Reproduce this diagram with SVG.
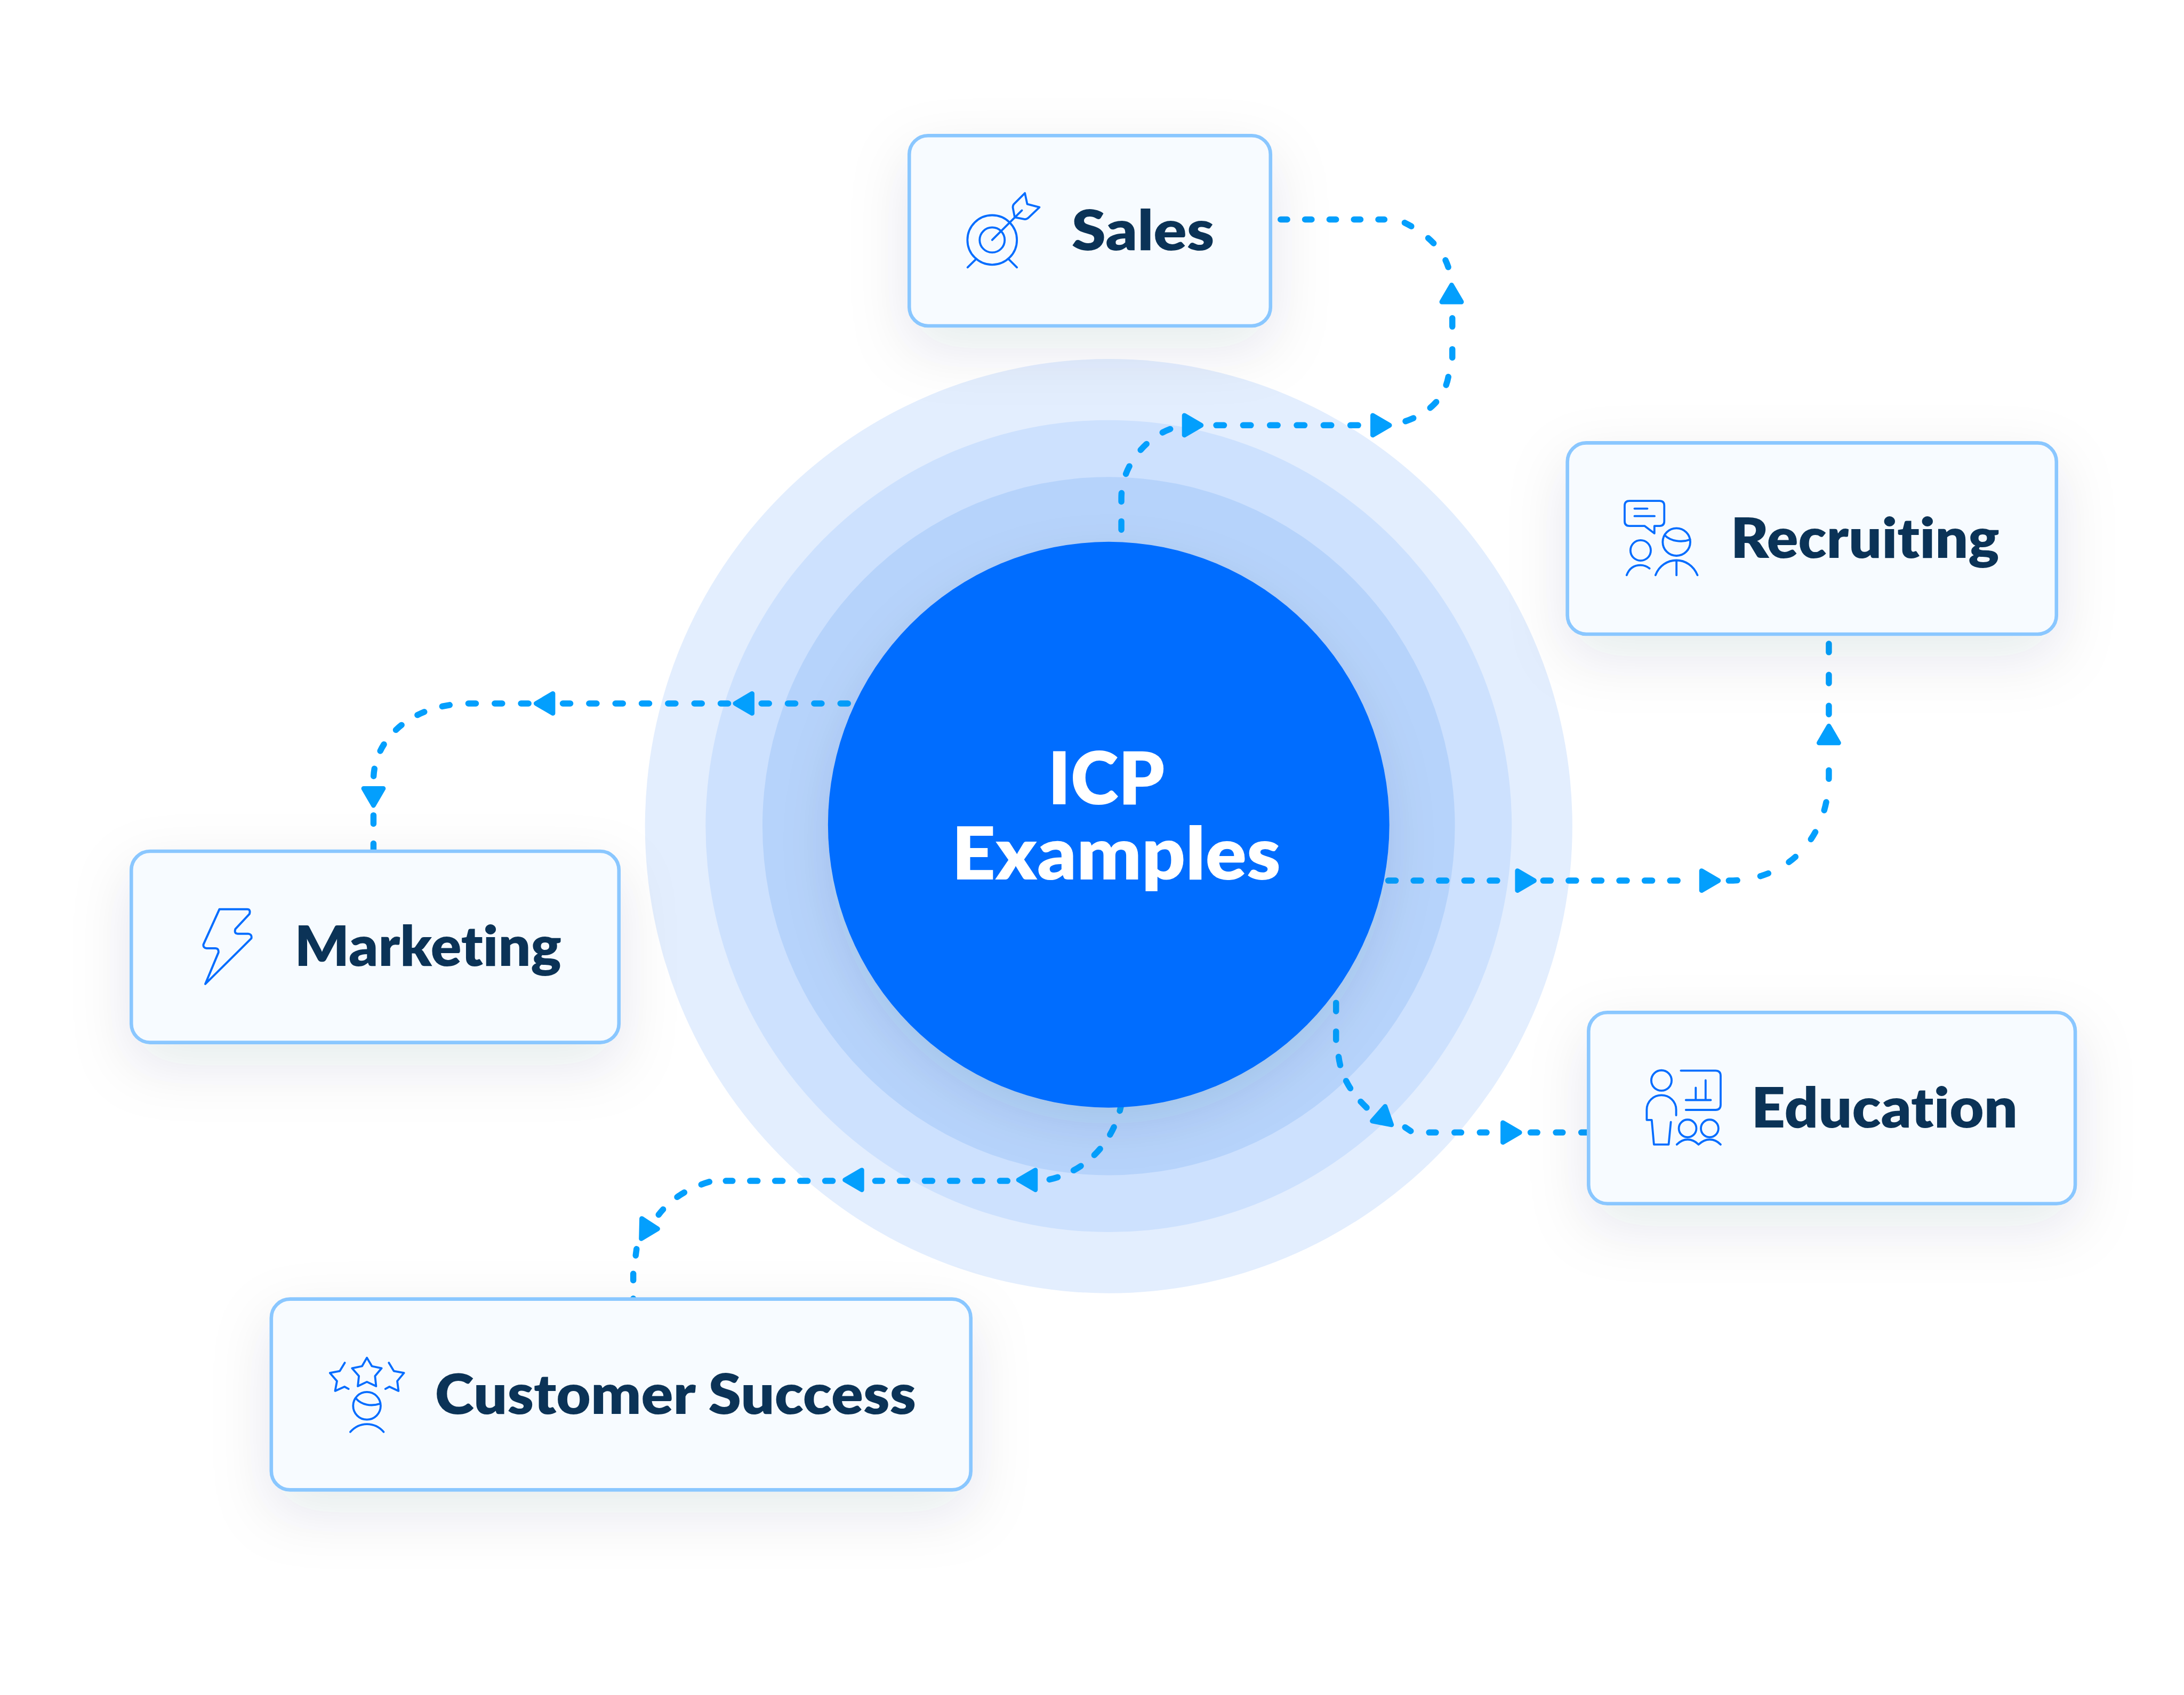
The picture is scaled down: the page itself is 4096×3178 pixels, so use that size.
<svg xmlns="http://www.w3.org/2000/svg" width="4096" height="3178" viewBox="0 0 4096 3178">
<style>
.box{fill:#f7fbff;stroke:#8ac7ff;stroke-width:7.5}
.ic{fill:none;stroke:#056dff;stroke-width:13;stroke-linecap:round;stroke-linejoin:round}
.lbl{font-family:"Lato","Liberation Sans",sans-serif;font-weight:800;font-size:118px;fill:#0b3357;font-variant-ligatures:none}
.hub{font-family:"Lato","Liberation Sans",sans-serif;font-weight:800;font-size:156px;fill:#fff;font-variant-ligatures:none}
.c{fill:none;stroke:#039ffd;stroke-width:13;stroke-linecap:round}
.ah{fill:#039ffd;stroke:#039ffd;stroke-width:10;stroke-linejoin:round}
</style>
<defs>
<filter id="bs" x="-40%" y="-60%" width="180%" height="260%"><feDropShadow dx="0" dy="44" stdDeviation="62" flood-color="#0b3357" flood-opacity=".1"/></filter>
<filter id="cs" x="-30%" y="-30%" width="160%" height="160%"><feDropShadow dx="0" dy="36" stdDeviation="50" flood-color="#0b3357" flood-opacity=".1"/></filter>
<path id="ah" class="ah" d="M-18 -21L18 0L-18 21Z"/>
</defs>
<rect width="4096" height="3178" fill="#fff"/>
<g transform="scale(.88105)">
<g id="rings">
<ellipse cx="2360" cy="1758" rx="987" ry="994" fill="#e3eefe"/>
<ellipse cx="2360" cy="1758" rx="858" ry="864" fill="#cde1fe"/>
<ellipse cx="2360" cy="1758" rx="737" ry="743" fill="#b6d3fb"/>
</g>
<g id="connectors">
<g id="conn-sales">
<path class="c" stroke-dasharray="14 38" d="M2726 467H2947"/>
<path class="c" stroke-dasharray="16 44" d="M2990 474Q3066 512 3084 572"/>
<path class="c" stroke-dasharray="18 48" d="M3091.5 677V761"/>
<path class="c" stroke-dasharray="18 42" d="M3083 802Q3070 870 2990 897"/>
<path class="c" stroke-dasharray="16.5 40.6" d="M2589 905H2891"/>
<path class="c" stroke-dasharray="18 42" d="M2491 913C2440 932 2387 990 2387 1060V1170"/>
<use href="#ah" transform="translate(3090 624.5) rotate(-90)"/>
<use href="#ah" transform="translate(2940 905)"/>
<use href="#ah" transform="translate(2539 905)"/>
</g>
<g id="conn-recruiting">
<path class="c" stroke-dasharray="16 38" d="M2955 1874H3215"/>
<path class="c" stroke-dasharray="16 38" d="M3285 1874H3605"/>
<path class="c" stroke-dasharray="18 50" d="M3680 1874C3800 1874 3893 1790 3893 1650V1600"/>
<path class="c" stroke-dasharray="18 48" d="M3893 1520V1340"/>
<use href="#ah" transform="translate(3248 1874)"/>
<use href="#ah" transform="translate(3640 1874)"/>
<use href="#ah" transform="translate(3893 1563) rotate(-90)"/>
</g>
<g id="conn-marketing">
<path class="c" stroke-dasharray="16 40" d="M1805 1497H1615"/>
<path class="c" stroke-dasharray="16 40" d="M1550 1497H1190"/>
<path class="c" stroke-dasharray="16 40" d="M1125 1497H1000C880 1497 795 1570 795 1660"/>
<path class="c" stroke-dasharray="18 42" d="M795 1735V1815"/>
<use href="#ah" transform="translate(1583 1497) rotate(180)"/>
<use href="#ah" transform="translate(1159 1497) rotate(180)"/>
<use href="#ah" transform="translate(795 1696) rotate(90)"/>
</g>
<g id="conn-education">
<path class="c" stroke-dasharray="18 43" d="M2844 2134V2215"/>
<path class="c" stroke-dasharray="18 36" d="M2849.5 2249C2855 2290 2875 2325 2910 2358"/>
<path class="c" d="M2991 2399L3003 2407"/>
<path class="c" stroke-dasharray="14.5 39.5" d="M3042 2410H3170"/>
<path class="c" stroke-dasharray="14.5 39.5" d="M3258 2410H3385"/>
<use href="#ah" transform="translate(2945 2372) rotate(-79)"/>
<use href="#ah" transform="translate(3217 2410)"/>
</g>
<g id="conn-customer">
<path class="c" stroke-dasharray="18 37" d="M2234 2510C2320 2490 2380 2420 2390 2330"/>
<path class="c" stroke-dasharray="16 37.3" d="M2144.5 2513H1863"/>
<path class="c" stroke-dasharray="16 37.3" d="M1772.5 2513H1545"/>
<path class="c" stroke-dasharray="18 40" d="M1510 2515C1460 2530 1425 2555 1402 2585"/>
<path class="c" stroke-dasharray="14 39" d="M1355 2658L1348 2711V2778"/>
<use href="#ah" transform="translate(2186 2511) rotate(180)"/>
<use href="#ah" transform="translate(1816.5 2511) rotate(180)"/>
<path class="ah" d="M1366 2593L1400 2615L1365 2636Z"/>
</g>
</g>
<g id="hub">
<ellipse cx="2360" cy="1755" rx="597.5" ry="602" fill="#056dff" filter="url(#cs)"/>
<text class="hub" x="2231" y="1712" textLength="248" lengthAdjust="spacingAndGlyphs">ICP</text>
<text class="hub" x="2026" y="1872" textLength="700" lengthAdjust="spacingAndGlyphs">Examples</text>
</g>
<g id="node-sales">
<rect class="box" x="1935.5" y="288.5" width="769" height="405" rx="40" filter="url(#bs)"/>
<g class="ic" transform="translate(1990 400) scale(.3333)">
<circle cx="366" cy="332" r="158"/><circle cx="366" cy="332" r="80"/>
<path d="M366 332L556 143M262 455L209 507M472 455L524 507"/>
<path d="M575 33L590 103L668 123L598 190Q588 200 575 200L510 187L498 125Q498 110 505 103Z"/>
</g>
<text class="lbl" x="2281" y="532" textLength="304" lengthAdjust="spacingAndGlyphs">Sales</text>
</g>
<g id="node-recruiting">
<rect class="box" x="3336.5" y="942.5" width="1041" height="407" rx="40" filter="url(#bs)"/>
<g class="ic" transform="translate(3440 1040) scale(.3333)">
<path d="M183 238H85Q55 238 55 208V108Q55 78 85 78H278Q308 78 308 108V208Q308 238 278 238H245V285Z"/>
<path d="M118 127H200M118 175H246"/>
<circle cx="157" cy="394" r="65"/>
<path d="M68 552C85 505 120 488 157 488C180 488 198 496 214 509"/>
<circle cx="386" cy="340" r="88"/>
<path d="M314 300C350 335 420 345 472 325"/>
<path d="M252 552C275 490 330 457 386 457C440 457 495 490 520 552M386 457V552"/>
</g>
<text class="lbl" x="3684" y="1187" textLength="572" lengthAdjust="spacingAndGlyphs">Recruiting</text>
</g>
<g id="node-education">
<rect class="box" x="3381.5" y="2154.5" width="1036" height="407" rx="40" filter="url(#bs)"/>
<g class="ic" transform="translate(3490 2260) scale(.3333)">
<circle cx="140" cy="118" r="65"/>
<path d="M234 340V305C234 250 190 212 140 212C90 212 46 250 46 305V370H78L92 527H186L200 383"/>
<path d="M264 55H485Q518 55 518 88V272Q518 306 485 306H296"/>
<path d="M296 243H455M359 243V164M422 243V117"/>
<circle cx="307" cy="424" r="56"/><circle cx="448" cy="424" r="56"/>
<path d="M238 527C260 505 285 495 307 495C335 495 360 510 377 527C395 510 420 495 448 495C475 495 497 505 518 527"/>
</g>
<text class="lbl" x="3728" y="2399" textLength="567" lengthAdjust="spacingAndGlyphs">Education</text>
</g>
<g id="node-marketing">
<rect class="box" x="279.5" y="1811.5" width="1038" height="407" rx="40" filter="url(#bs)"/>
<path class="ic" style="stroke-width:4.5" d="M467 1935H526Q534 1935 531 1945L501 1977Q498 1987 506 1987H528Q537 1988 535 1997L437 2094L465 2027Q466 2018 458 2018H440Q432 2017 433 2010Z"/>
<text class="lbl" x="627" y="2056" textLength="568" lengthAdjust="spacingAndGlyphs">Marketing</text>
</g>
<g id="node-customer">
<rect class="box" x="577.5" y="2764.5" width="1489" height="406" rx="40" filter="url(#bs)"/>
<g class="ic" transform="translate(680 2870) scale(.3333)">
<path d="M303 58L335 112L397 125L355 175L362 240L303 212L245 240L252 175L208 125L272 112Z"/>
<path d="M162 90L130 143L67 155L112 207L100 270L160 243L186 257"/>
<path d="M443 90L475 143L540 155L497 207L505 270L447 243L421 257"/>
<circle cx="303" cy="365" r="88"/>
<path d="M233 318C270 360 330 370 385 352"/>
<path d="M197 532C230 495 270 482 303 482C340 482 380 497 410 532"/>
</g>
<text class="lbl" x="926" y="3009" textLength="1024" lengthAdjust="spacingAndGlyphs">Customer Success</text>
</g>
</g>
</svg>
